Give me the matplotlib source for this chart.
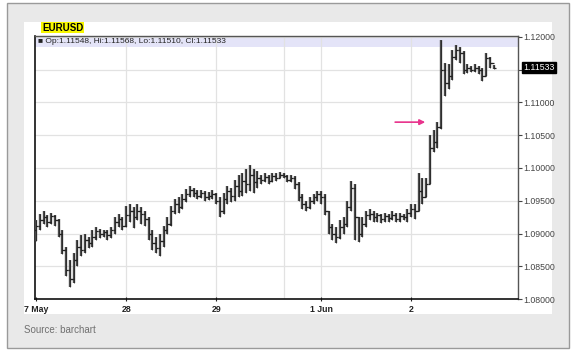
import matplotlib.pyplot as plt
from matplotlib.patches import Rectangle
import numpy as np

plt.rcParams['font.family'] = ['Liberation Sans', 'DejaVu Sans']

# hourly bars, EURUSD
highs = [1.0920, 1.0930, 1.0935, 1.0928, 1.0932, 1.0928, 1.0922, 1.0905, 1.0880, 1.0860,
         1.0870, 1.0890, 1.0898, 1.0900, 1.0895, 1.0905, 1.0910, 1.0907, 1.0906, 1.0905,
         1.0910, 1.0925, 1.0930, 1.0925, 1.0942, 1.0945, 1.0940, 1.0945, 1.0940, 1.0935,
         1.0925, 1.0905, 1.0895, 1.0900, 1.0912, 1.0925, 1.0942, 1.0952, 1.0955, 1.0960,
         1.0968, 1.0972, 1.0970, 1.0966, 1.0967, 1.0965, 1.0964, 1.0966, 1.0962, 1.0955,
         1.0962, 1.0972, 1.0970, 1.0982, 1.0990, 1.0992, 1.0998, 1.1005, 1.0998, 1.0995,
         1.0990, 1.0992, 1.0990, 1.0993, 1.0992, 1.0994, 1.0992, 1.0990, 1.0990, 1.0988,
         1.0978, 1.0960, 1.0950, 1.0955, 1.0960, 1.0965, 1.0965, 1.0960, 1.0935, 1.0915,
         1.0910, 1.0920, 1.0925, 1.0950, 1.0980, 1.0975, 1.0925, 1.0925, 1.0935, 1.0938,
         1.0935, 1.0932, 1.0930, 1.0932, 1.0930, 1.0934, 1.0932, 1.0932, 1.0930, 1.0938,
         1.0945, 1.0945, 1.0992, 1.0985, 1.0985, 1.1050, 1.1058, 1.1070, 1.1195, 1.1160,
         1.1158, 1.1180, 1.1188, 1.1185, 1.1178, 1.1158, 1.1156, 1.1158, 1.1156, 1.1152,
         1.1176, 1.1170, 1.1157]
lows = [1.0888, 1.0905, 1.0915, 1.0910, 1.0915, 1.0912, 1.0895, 1.0868, 1.0835, 1.0818,
        1.0825, 1.0850, 1.0865, 1.0870, 1.0878, 1.0880, 1.0890, 1.0893, 1.0895, 1.0890,
        1.0893, 1.0900, 1.0910, 1.0905, 1.0910, 1.0918, 1.0908, 1.0920, 1.0915, 1.0912,
        1.0890, 1.0875, 1.0870, 1.0866, 1.0880, 1.0900, 1.0912, 1.0930, 1.0932, 1.0938,
        1.0948, 1.0955, 1.0955, 1.0952, 1.0954, 1.0950, 1.0951, 1.0952, 1.0945, 1.0925,
        1.0930, 1.0945, 1.0948, 1.0950, 1.0955, 1.0958, 1.0962, 1.0965, 1.0962, 1.0970,
        1.0975, 1.0978, 1.0975, 1.0978, 1.0980, 1.0984, 1.0985, 1.0978, 1.0978, 1.0968,
        1.0950, 1.0938, 1.0935, 1.0938, 1.0945, 1.0950, 1.0945, 1.0928, 1.0900, 1.0890,
        1.0885, 1.0892, 1.0900, 1.0910, 1.0935, 1.0890, 1.0887, 1.0895, 1.0910, 1.0920,
        1.0918, 1.0918, 1.0916, 1.0918, 1.0917, 1.0920, 1.0917, 1.0918, 1.0920, 1.0918,
        1.0925, 1.0922, 1.0935, 1.0945, 1.0955, 1.0975, 1.1025, 1.1030, 1.1060, 1.1110,
        1.1120, 1.1135, 1.1165, 1.1160, 1.1143, 1.1145, 1.1146, 1.1147, 1.1143, 1.1133,
        1.1140, 1.1152, 1.1151]
closes = [1.0912, 1.0920, 1.0925, 1.0918, 1.0926, 1.0920, 1.0900, 1.0875, 1.0845, 1.0830,
          1.0860, 1.0880, 1.0875, 1.0890, 1.0886, 1.0895, 1.0904, 1.0900, 1.0902, 1.0897,
          1.0905, 1.0918, 1.0922, 1.0912, 1.0928, 1.0935, 1.0925, 1.0935, 1.0930, 1.0922,
          1.0900, 1.0885, 1.0878, 1.0888, 1.0905, 1.0915, 1.0935, 1.0945, 1.0940, 1.0952,
          1.0960, 1.0966, 1.0962, 1.0958, 1.0962, 1.0955, 1.0958, 1.0960, 1.0950, 1.0935,
          1.0952, 1.0965, 1.0958, 1.0972, 1.0965, 1.0980, 1.0975, 1.0990, 1.0978, 1.0985,
          1.0982, 1.0986, 1.0980, 1.0988, 1.0985, 1.0990, 1.0988, 1.0982, 1.0985, 1.0975,
          1.0955, 1.0945, 1.0940, 1.0950, 1.0955, 1.0960, 1.0955, 1.0935, 1.0910, 1.0900,
          1.0895, 1.0910, 1.0915, 1.0940, 1.0970, 1.0925, 1.0900, 1.0915, 1.0928, 1.0930,
          1.0925, 1.0928, 1.0922, 1.0926, 1.0924, 1.0928, 1.0922, 1.0926, 1.0925, 1.0932,
          1.0938, 1.0935, 1.0965, 1.0955, 1.0975, 1.1030, 1.1040, 1.1062, 1.1150, 1.1130,
          1.1140, 1.1170, 1.1180, 1.1175, 1.1150, 1.1152, 1.1150, 1.1153, 1.1149, 1.1140,
          1.1168, 1.1160, 1.1153]
first_open = 1.0905

tick_pos = [0, 24, 48, 76, 100]
tick_labels = ['7 May', '28', '29', '1 Jun', '2']
session_break = 66
y_ticks = [1.080, 1.085, 1.090, 1.095, 1.100, 1.105, 1.110, 1.115, 1.120]
last_price = 1.11533
arrow_start, arrow_end, arrow_level = 95, 104.5, 1.1070
header = '\u25a0 Op:1.11548, Hi:1.11568, Lo:1.11510, Cl:1.11533'

idx = np.arange(len(closes))
opens = [first_open] + closes[:-1]

fig = plt.figure(figsize=(5.73, 3.55), dpi=100)
fig.patch.set_facecolor('white')
# outer grey frame and inner white panel
fig.add_artist(Rectangle((0.0122, 0.0197), 0.981, 0.972, transform=fig.transFigure,
                         facecolor='#e9e9e9', edgecolor='#9a9a9a', lw=1, zorder=0))
fig.add_artist(Rectangle((0.0419, 0.1155), 0.9215, 0.8225, transform=fig.transFigure,
                         facecolor='white', edgecolor='none', zorder=0))

ax = fig.add_axes([0.0611, 0.1577, 0.8429, 0.7409])
ax.set_facecolor('white')

# header band
ax.add_patch(Rectangle((0, 0.958), 1, 0.042, transform=ax.transAxes,
                       facecolor='#e4e4f8', edgecolor='none', zorder=0))

for y in y_ticks:
    ax.axhline(y, color='#e2e2e2', lw=0.9, zorder=1)
for x in tick_pos[1:] + [session_break]:
    ax.axvline(x, color='#e2e2e2', lw=0.9, zorder=1)

bar_col = '#4a4a4a'
ax.vlines(idx, lows, highs, color=bar_col, lw=1.7, zorder=3)
ax.vlines(idx, lows, highs, color='#222222', lw=0.5, zorder=3)
ax.hlines(opens, idx - 0.6, idx, color='#222222', lw=0.9, zorder=3)
ax.hlines(closes, idx, idx + 0.6, color='#222222', lw=0.9, zorder=3)

ax.annotate('', xy=(arrow_end, arrow_level), xytext=(arrow_start, arrow_level),
            arrowprops=dict(arrowstyle='-|>', color='#e8338c', lw=1.2,
                            mutation_scale=8), zorder=4)

ax.set_xlim(-0.3, 128.5)
ax.set_ylim(1.080, 1.12015)

ax.yaxis.tick_right()
ax.set_yticks(y_ticks)
# the 1.11500 label sits under the last-price box
ax.set_yticklabels(['' if abs(v - 1.115) < 1e-9 else '%.5f' % v for v in y_ticks])
ax.tick_params(axis='y', labelsize=6.3, colors='#444444', length=3, width=0.8, pad=1)
ax.set_xticks(tick_pos)
ax.set_xticklabels(tick_labels, fontweight='bold')
ax.tick_params(axis='x', labelsize=6.3, colors='#222222', length=3, width=0.8,
               direction='inout', pad=3)

for s in ['left', 'bottom']:
    ax.spines[s].set_color('#111111')
    ax.spines[s].set_linewidth(1.2)
for s in ['right', 'top']:
    ax.spines[s].set_color('#555555')
    ax.spines[s].set_linewidth(1.0)

ax.text(0.006, 0.979, header, transform=ax.transAxes, fontsize=6, va='center',
        ha='left', color='#222222', zorder=5)

ax.annotate('%.5f' % last_price, xy=(1.0, last_price), xycoords=('axes fraction', 'data'),
            xytext=(4, 0), textcoords='offset points', fontsize=6.3, color='white',
            va='center', ha='left',
            bbox=dict(boxstyle='square,pad=0.15', facecolor='black', edgecolor='black'),
            annotation_clip=False, zorder=6)

fig.text(0.0733, 0.9225, 'EURUSD', fontsize=7, fontweight='bold', va='center', ha='left',
         bbox=dict(boxstyle='square,pad=0.1', facecolor='#f7f700', edgecolor='none'))
fig.text(0.042, 0.0705, 'Source: barchart', fontsize=7, color='#707070', va='center',
         ha='left')

plt.savefig('out.png', dpi=100)
